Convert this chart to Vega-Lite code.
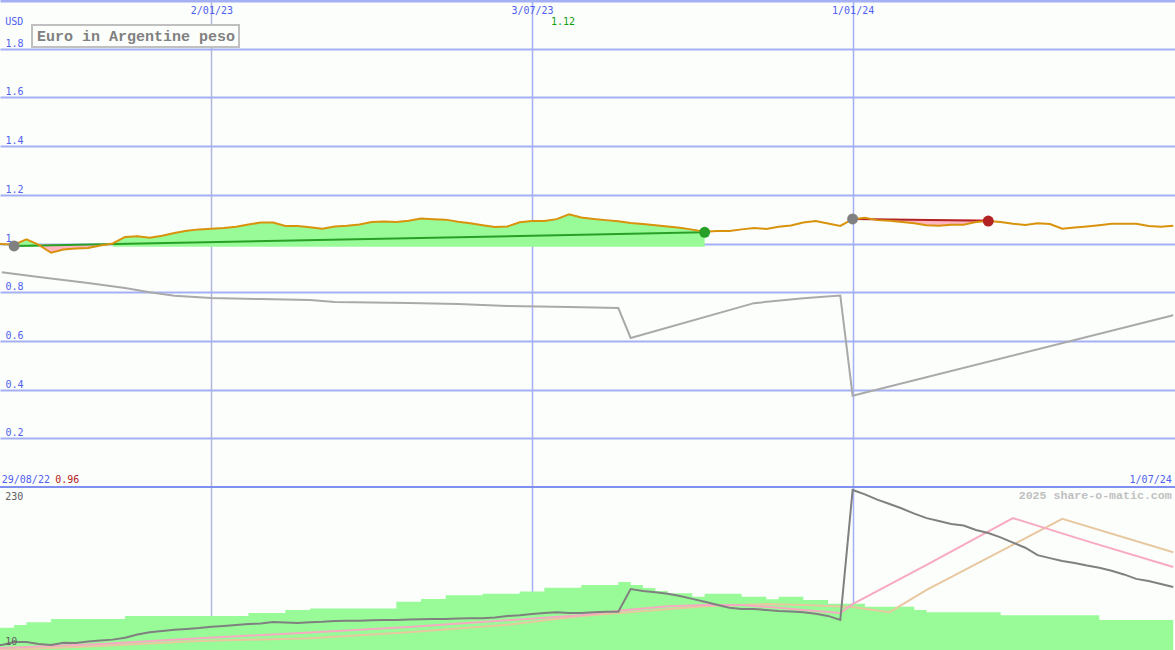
{
  "$schema": "https://vega.github.io/schema/vega-lite/v6.json",
  "width": 1175,
  "height": 650,
  "autosize": "none",
  "padding": 0,
  "background": "#fcfefc",
  "config": {
    "view": {"stroke": null},
    "axis": {"labelFont": "DejaVu Sans Mono", "labelFontSize": 10, "labelColor": "#5060f0"},
    "text": {"font": "DejaVu Sans Mono", "fontSize": 10},
    "legend": {"strokeWidth": 2}
  },
  "datasets": {
    "wk": [
      {"d":"2022-08-29","eur":0.998,"vol":40,"gb":16},
      {"d":"2022-09-05","eur":0.998,"vol":40,"gb":16.7},
      {"d":"2022-09-12","eur":0.995,"vol":43.7,"gb":20.8},
      {"d":"2022-09-19","eur":1.017,"vol":47.4,"gb":20.8},
      {"d":"2022-09-26","eur":0.994,"vol":47.4,"gb":18},
      {"d":"2022-10-03","eur":0.962,"vol":51.8,"gb":16.7},
      {"d":"2022-10-10","eur":0.975,"vol":51.8,"gb":19.9},
      {"d":"2022-10-17","eur":0.979,"vol":51.8,"gb":19.4},
      {"d":"2022-10-24","eur":0.982,"vol":51.8,"gb":21.5},
      {"d":"2022-10-31","eur":0.992,"vol":51.8,"gb":22.8},
      {"d":"2022-11-07","eur":1.000,"vol":51.8,"gb":24},
      {"d":"2022-11-14","eur":1.027,"vol":55.9,"gb":26.5},
      {"d":"2022-11-21","eur":1.030,"vol":55.9,"gb":31},
      {"d":"2022-11-28","eur":1.024,"vol":55.9,"gb":34},
      {"d":"2022-12-05","eur":1.032,"vol":55.9,"gb":35.6},
      {"d":"2022-12-12","eur":1.043,"vol":55.9,"gb":37.4},
      {"d":"2022-12-19","eur":1.052,"vol":55.9,"gb":38.5},
      {"d":"2022-12-26","eur":1.058,"vol":55.9,"gb":39.7},
      {"d":"2023-01-02","eur":1.061,"vol":55.9,"gb":41.4},
      {"d":"2023-01-09","eur":1.064,"vol":55.9,"gb":42.5},
      {"d":"2023-01-16","eur":1.069,"vol":55.9,"gb":43.7},
      {"d":"2023-01-23","eur":1.078,"vol":60,"gb":45},
      {"d":"2023-01-30","eur":1.086,"vol":60,"gb":45.8},
      {"d":"2023-02-06","eur":1.086,"vol":60,"gb":47.8},
      {"d":"2023-02-13","eur":1.072,"vol":64,"gb":47},
      {"d":"2023-02-20","eur":1.072,"vol":64,"gb":46.4},
      {"d":"2023-02-27","eur":1.067,"vol":66,"gb":47.5},
      {"d":"2023-03-06","eur":1.061,"vol":66,"gb":48},
      {"d":"2023-03-13","eur":1.070,"vol":66,"gb":49},
      {"d":"2023-03-20","eur":1.073,"vol":66,"gb":49.5},
      {"d":"2023-03-27","eur":1.078,"vol":66,"gb":49.5},
      {"d":"2023-04-03","eur":1.088,"vol":66,"gb":50},
      {"d":"2023-04-10","eur":1.090,"vol":66,"gb":50.5},
      {"d":"2023-04-17","eur":1.088,"vol":75,"gb":50.5},
      {"d":"2023-04-24","eur":1.093,"vol":75,"gb":51},
      {"d":"2023-05-01","eur":1.103,"vol":79,"gb":51.5},
      {"d":"2023-05-08","eur":1.100,"vol":79,"gb":51.8},
      {"d":"2023-05-15","eur":1.098,"vol":84,"gb":52},
      {"d":"2023-05-22","eur":1.089,"vol":84,"gb":52.5},
      {"d":"2023-05-29","eur":1.083,"vol":84,"gb":53},
      {"d":"2023-06-05","eur":1.075,"vol":86,"gb":53},
      {"d":"2023-06-12","eur":1.068,"vol":86,"gb":54},
      {"d":"2023-06-19","eur":1.070,"vol":86,"gb":55.9},
      {"d":"2023-06-26","eur":1.087,"vol":89,"gb":57},
      {"d":"2023-07-03","eur":1.092,"vol":89,"gb":58.5},
      {"d":"2023-07-10","eur":1.092,"vol":94,"gb":60},
      {"d":"2023-07-17","eur":1.100,"vol":94,"gb":61},
      {"d":"2023-07-24","eur":1.120,"vol":94,"gb":60},
      {"d":"2023-07-31","eur":1.107,"vol":97.7,"gb":60},
      {"d":"2023-08-07","eur":1.101,"vol":97.7,"gb":61},
      {"d":"2023-08-14","eur":1.096,"vol":97.7,"gb":61.7},
      {"d":"2023-08-21","eur":1.091,"vol":101.8,"gb":61.7},
      {"d":"2023-08-28","eur":1.084,"vol":97.7,"gb":92.3},
      {"d":"2023-09-04","eur":1.080,"vol":93.7,"gb":89.6},
      {"d":"2023-09-11","eur":1.075,"vol":89.6,"gb":88},
      {"d":"2023-09-18","eur":1.070,"vol":86.5,"gb":86},
      {"d":"2023-09-25","eur":1.065,"vol":86.5,"gb":83},
      {"d":"2023-10-02","eur":1.057,"vol":81.9,"gb":79},
      {"d":"2023-10-09","eur":1.048,"vol":86,"gb":75},
      {"d":"2023-10-16","eur":1.051,"vol":86,"gb":71},
      {"d":"2023-10-23","eur":1.051,"vol":86,"gb":67},
      {"d":"2023-10-30","eur":1.058,"vol":81.9,"gb":65.3},
      {"d":"2023-11-06","eur":1.064,"vol":81.9,"gb":65.3},
      {"d":"2023-11-13","eur":1.060,"vol":78.4,"gb":64},
      {"d":"2023-11-20","eur":1.069,"vol":81.9,"gb":62.6},
      {"d":"2023-11-27","eur":1.074,"vol":81.9,"gb":62},
      {"d":"2023-12-04","eur":1.086,"vol":77.5,"gb":61},
      {"d":"2023-12-11","eur":1.092,"vol":77.5,"gb":59},
      {"d":"2023-12-18","eur":1.082,"vol":72.5,"gb":56},
      {"d":"2023-12-25","eur":1.072,"vol":72.5,"gb":50.5},
      {"d":"2024-01-01","eur":1.100,"vol":72.5,"gb":226},
      {"d":"2024-01-08","eur":1.106,"vol":68.4,"gb":220},
      {"d":"2024-01-15","eur":1.096,"vol":68.4,"gb":213},
      {"d":"2024-01-22","eur":1.093,"vol":68.4,"gb":207},
      {"d":"2024-01-29","eur":1.088,"vol":68.4,"gb":201},
      {"d":"2024-02-05","eur":1.083,"vol":64,"gb":194},
      {"d":"2024-02-12","eur":1.075,"vol":61,"gb":188},
      {"d":"2024-02-19","eur":1.073,"vol":61,"gb":184},
      {"d":"2024-02-26","eur":1.077,"vol":61,"gb":180},
      {"d":"2024-03-04","eur":1.077,"vol":61,"gb":178},
      {"d":"2024-03-11","eur":1.088,"vol":61,"gb":172},
      {"d":"2024-03-18","eur":1.092,"vol":61,"gb":168},
      {"d":"2024-03-25","eur":1.088,"vol":57,"gb":162},
      {"d":"2024-04-01","eur":1.081,"vol":57,"gb":155},
      {"d":"2024-04-08","eur":1.076,"vol":57,"gb":148},
      {"d":"2024-04-15","eur":1.083,"vol":57,"gb":138},
      {"d":"2024-04-22","eur":1.080,"vol":57,"gb":134},
      {"d":"2024-04-29","eur":1.061,"vol":57,"gb":130},
      {"d":"2024-05-06","eur":1.066,"vol":57,"gb":127.4},
      {"d":"2024-05-13","eur":1.070,"vol":57,"gb":124},
      {"d":"2024-05-20","eur":1.075,"vol":50.5,"gb":121},
      {"d":"2024-05-27","eur":1.081,"vol":50.5,"gb":117},
      {"d":"2024-06-03","eur":1.081,"vol":50.5,"gb":112},
      {"d":"2024-06-10","eur":1.081,"vol":50.5,"gb":106},
      {"d":"2024-06-17","eur":1.072,"vol":50.5,"gb":103},
      {"d":"2024-06-24","eur":1.069,"vol":50.5,"gb":99},
      {"d":"2024-07-01","eur":1.073,"vol":50.5,"gb":95}
    ],
    "gtop": [
      {"d":"2022-09-05","v":0.882},
      {"d":"2022-09-26","v":0.862},
      {"d":"2022-10-10","v":0.85},
      {"d":"2022-10-24","v":0.838},
      {"d":"2022-11-14","v":0.817},
      {"d":"2022-11-28","v":0.80},
      {"d":"2022-12-12","v":0.785},
      {"d":"2023-01-02","v":0.776},
      {"d":"2023-01-30","v":0.772},
      {"d":"2023-02-27","v":0.768},
      {"d":"2023-03-13","v":0.76},
      {"d":"2023-04-24","v":0.756},
      {"d":"2023-05-22","v":0.752},
      {"d":"2023-06-19","v":0.743},
      {"d":"2023-07-24","v":0.739},
      {"d":"2023-08-21","v":0.735},
      {"d":"2023-08-28","v":0.612},
      {"d":"2023-11-06","v":0.755},
      {"d":"2023-12-04","v":0.775},
      {"d":"2023-12-25","v":0.786},
      {"d":"2024-01-01","v":0.375},
      {"d":"2024-07-01","v":0.705}
    ],
    "pinkl": [
      {"d":"2022-08-29","v":12},
      {"d":"2022-09-05","v":12.7},
      {"d":"2022-10-31","v":18},
      {"d":"2022-12-26","v":26},
      {"d":"2023-02-27","v":33.5},
      {"d":"2023-04-24","v":41},
      {"d":"2023-06-19","v":50},
      {"d":"2023-07-31","v":57},
      {"d":"2023-08-21","v":63},
      {"d":"2023-09-18","v":69},
      {"d":"2023-10-09","v":70.7},
      {"d":"2023-10-30","v":70.7},
      {"d":"2023-11-20","v":67},
      {"d":"2023-12-04","v":64},
      {"d":"2023-12-25","v":60},
      {"d":"2024-01-01","v":72},
      {"d":"2024-02-12","v":125},
      {"d":"2024-04-01","v":188},
      {"d":"2024-05-13","v":157},
      {"d":"2024-07-01","v":122}
    ],
    "tanl": [
      {"d":"2022-08-29","v":9.5},
      {"d":"2022-09-05","v":10},
      {"d":"2022-10-31","v":15.4},
      {"d":"2022-12-26","v":22},
      {"d":"2023-02-27","v":26},
      {"d":"2023-04-24","v":34},
      {"d":"2023-06-19","v":44},
      {"d":"2023-07-31","v":56},
      {"d":"2023-10-09","v":69},
      {"d":"2023-11-13","v":72},
      {"d":"2023-12-04","v":70.7},
      {"d":"2024-01-01","v":68},
      {"d":"2024-01-22","v":61},
      {"d":"2024-02-12","v":91},
      {"d":"2024-04-29","v":187},
      {"d":"2024-07-01","v":142}
    ]
  },
  "resolve": {"scale": {"y": "independent"}},
  "layer": [
    {
      "layer": [
        {
          "data": {"name": "wk"},
          "transform": [{"filter": "toDate(datum.d) >= utc(2022,8,12) && toDate(datum.d) <= utc(2022,8,26)"}],
          "mark": {"type": "area", "color": "#98fb98", "clip": true},
          "encoding": {
            "x": {"field": "d", "type": "temporal",
              "scale": {"type": "utc", "domain": [{"year":2022,"month":9,"date":4,"utc":true},{"year":2024,"month":7,"date":2,"utc":true}]},
              "axis": {"orient": "top", "title": null,
                "values": [{"year":2023,"month":1,"date":2,"utc":true},{"year":2023,"month":7,"date":3,"utc":true},{"year":2024,"month":1,"date":1,"utc":true}],
                "labelExpr": "utcFormat(datum.value, '%-d/%m/%y')",
                "grid": true,
                "gridColor": {"condition": {"test": "datum.value < utc(2023,2,1)", "value": "#b4b8dc"}, "value": "#a4b0f4"},
                "gridWidth": 1.5,
                "ticks": false, "tickSize": 0,
                "domain": true, "domainColor": "#a4b0f4", "domainWidth": 4,
                "labelPadding": -13, "labelBaseline": "alphabetic",
                "labelFlush": false, "labelOverlap": false, "labelBound": false}},
            "y": {"field": "eur", "type": "quantitative",
              "scale": {"domain": [-0.6694, 2.0], "nice": false, "zero": false},
              "axis": {"title": null, "values": [0.2,0.4,0.6,0.8,1,1.2,1.4,1.6,1.8], "format": "~g",
                "grid": true, "gridColor": "#a4b0f4", "gridWidth": 2,
                "ticks": false, "tickSize": 0, "domain": false,
                "labelAlign": "left", "labelPadding": -5, "labelBaseline": "alphabetic", "labelOffset": -2.5,
                "labelFlush": false, "labelOverlap": false, "labelBound": false}},
            "y2": {"datum": 0.987}
          }
        },
        {
          "data": {"name": "wk"},
          "transform": [{"filter": "toDate(datum.d) >= utc(2022,10,7) && toDate(datum.d) <= utc(2023,9,9)"}],
          "mark": {"type": "area", "color": "#98fb98", "clip": true},
          "encoding": {
            "x": {"field": "d", "type": "temporal", "scale": {"type": "utc"}},
            "y": {"field": "eur", "type": "quantitative"},
            "y2": {"datum": 0.987}
          }
        },
        {
          "data": {"name": "wk"},
          "transform": [{"filter": "toDate(datum.d) >= utc(2022,8,26) && toDate(datum.d) <= utc(2022,10,7)"}],
          "mark": {"type": "area", "color": "#ffb6c1", "clip": true},
          "encoding": {
            "x": {"field": "d", "type": "temporal", "scale": {"type": "utc"}},
            "y": {"field": "eur", "type": "quantitative"},
            "y2": {"datum": 0.997}
          }
        },
        {
          "data": {"name": "wk"},
          "transform": [{"filter": "toDate(datum.d) >= utc(2024,0,15) && toDate(datum.d) <= utc(2024,2,18)"}],
          "mark": {"type": "area", "color": "#ffb6c1", "clip": true},
          "encoding": {
            "x": {"field": "d", "type": "temporal", "scale": {"type": "utc"}},
            "y": {"field": "eur", "type": "quantitative"},
            "y2": {"datum": 1.1}
          }
        },
        {
          "data": {"values": [{"d":"2022-09-12","v":0.99},{"d":"2023-10-09","v":1.046}]},
          "mark": {"type": "line", "color": "#28a028", "strokeWidth": 2},
          "encoding": {
            "x": {"field": "d", "type": "temporal", "scale": {"type": "utc"}},
            "y": {"field": "v", "type": "quantitative"}
          }
        },
        {
          "data": {"values": [{"d":"2024-01-01","v":1.101},{"d":"2024-03-18","v":1.093}]},
          "mark": {"type": "line", "color": "#b22222", "strokeWidth": 2},
          "encoding": {
            "x": {"field": "d", "type": "temporal", "scale": {"type": "utc"}},
            "y": {"field": "v", "type": "quantitative"}
          }
        },
        {
          "data": {"name": "gtop"},
          "mark": {"type": "line", "color": "#a9a9a9", "strokeWidth": 2, "clip": true},
          "encoding": {
            "x": {"field": "d", "type": "temporal", "scale": {"type": "utc"}},
            "y": {"field": "v", "type": "quantitative"}
          }
        },
        {
          "data": {"values": [{"v": 0}]},
          "mark": {"type": "rule", "color": "#8090f0", "strokeWidth": 2},
          "encoding": {"y": {"field": "v", "type": "quantitative"}}
        },
        {
          "data": {"name": "wk"},
          "mark": {"type": "line", "strokeWidth": 2, "clip": true},
          "encoding": {
            "x": {"field": "d", "type": "temporal", "scale": {"type": "utc"}},
            "y": {"field": "eur", "type": "quantitative"},
            "color": {"datum": "Euro in Argentine peso",
              "scale": {"range": ["#d8920c"]},
              "legend": {"orient": "none", "legendX": 32, "legendY": 25, "title": null,
                "strokeColor": "#c0c0c0", "padding": 3, "fillColor": "#fcfefc",
                "symbolSize": 0, "symbolStrokeWidth": 0, "symbolOpacity": 0, "labelOffset": -13,
                "labelFont": "Liberation Mono", "labelFontSize": 15, "labelFontWeight": "bold", "labelColor": "#808080", "labelLimit": 400}}
          }
        },
        {
          "data": {"values": [{"d":"2022-09-12","v":0.99},{"d":"2024-01-01","v":1.101}]},
          "mark": {"type": "point", "filled": true, "size": 120, "color": "#808080", "opacity": 1},
          "encoding": {
            "x": {"field": "d", "type": "temporal", "scale": {"type": "utc"}},
            "y": {"field": "v", "type": "quantitative"}
          }
        },
        {
          "data": {"values": [{"d":"2023-10-09","v":1.046}]},
          "mark": {"type": "point", "filled": true, "size": 120, "color": "#28a028", "opacity": 1},
          "encoding": {
            "x": {"field": "d", "type": "temporal", "scale": {"type": "utc"}},
            "y": {"field": "v", "type": "quantitative"}
          }
        },
        {
          "data": {"values": [{"d":"2024-03-18","v":1.092}]},
          "mark": {"type": "point", "filled": true, "size": 120, "color": "#b22222", "opacity": 1},
          "encoding": {
            "x": {"field": "d", "type": "temporal", "scale": {"type": "utc"}},
            "y": {"field": "v", "type": "quantitative"}
          }
        },
        {
          "data": {"values": [{"t":"USD","d":"2022-09-05"}]},
          "mark": {"type": "text", "align": "left", "baseline": "alphabetic", "dx": 3.5, "color": "#5060f0"},
          "encoding": {
            "x": {"field": "d", "type": "temporal", "scale": {"type": "utc"}},
            "y": {"datum": 1.897},
            "text": {"field": "t"}
          }
        },
        {
          "data": {"values": [{"t":"1.12","d":"2023-07-24"}]},
          "mark": {"type": "text", "align": "center", "baseline": "alphabetic", "dx": -6, "color": "#10a010"},
          "encoding": {
            "x": {"field": "d", "type": "temporal", "scale": {"type": "utc"}},
            "y": {"datum": 1.897},
            "text": {"field": "t"}
          }
        },
        {
          "data": {"values": [{"t":"29/08/22","d":"2022-09-05"}]},
          "mark": {"type": "text", "align": "left", "baseline": "alphabetic", "dx": 0, "color": "#5060f0"},
          "encoding": {
            "x": {"field": "d", "type": "temporal", "scale": {"type": "utc"}},
            "y": {"datum": 0.015},
            "text": {"field": "t"}
          }
        },
        {
          "data": {"values": [{"t":"0.96","d":"2022-09-05"}]},
          "mark": {"type": "text", "align": "left", "baseline": "alphabetic", "dx": 53.5, "color": "#b22222"},
          "encoding": {
            "x": {"field": "d", "type": "temporal", "scale": {"type": "utc"}},
            "y": {"datum": 0.015},
            "text": {"field": "t"}
          }
        },
        {
          "data": {"values": [{"t":"1/07/24","d":"2024-07-01"}]},
          "mark": {"type": "text", "align": "right", "baseline": "alphabetic", "dx": -1.5, "color": "#5060f0"},
          "encoding": {
            "x": {"field": "d", "type": "temporal", "scale": {"type": "utc"}},
            "y": {"datum": 0.015},
            "text": {"field": "t"}
          }
        }
      ]
    },
    {
      "layer": [
        {
          "data": {"name": "wk"},
          "mark": {"type": "area", "color": "#98fb98", "interpolate": "step-after", "clip": true},
          "encoding": {
            "x": {"field": "d", "type": "temporal", "scale": {"type": "utc"}},
            "y": {"field": "vol", "type": "quantitative", "axis": null,
              "scale": {"domain": [10, 887.3], "nice": false, "zero": false}},
            "y2": {"datum": 10}
          }
        },
        {
          "data": {"name": "tanl"},
          "mark": {"type": "line", "color": "#e8c8a0", "strokeWidth": 2, "clip": true},
          "encoding": {
            "x": {"field": "d", "type": "temporal", "scale": {"type": "utc"}},
            "y": {"field": "v", "type": "quantitative", "axis": null}
          }
        },
        {
          "data": {"name": "pinkl"},
          "mark": {"type": "line", "color": "#f7aac2", "strokeWidth": 2, "clip": true},
          "encoding": {
            "x": {"field": "d", "type": "temporal", "scale": {"type": "utc"}},
            "y": {"field": "v", "type": "quantitative", "axis": null}
          }
        },
        {
          "data": {"name": "wk"},
          "mark": {"type": "line", "color": "#808080", "strokeWidth": 2, "clip": true},
          "encoding": {
            "x": {"field": "d", "type": "temporal", "scale": {"type": "utc"}},
            "y": {"field": "gb", "type": "quantitative", "axis": null}
          }
        },
        {
          "data": {"values": [{"t":"230","d":"2022-09-05"}]},
          "mark": {"type": "text", "align": "left", "baseline": "alphabetic", "dx": 3.5, "color": "#606060"},
          "encoding": {
            "x": {"field": "d", "type": "temporal", "scale": {"type": "utc"}},
            "y": {"datum": 212.5},
            "text": {"field": "t"}
          }
        },
        {
          "data": {"values": [{"t":"10","d":"2022-09-05"}]},
          "mark": {"type": "text", "align": "left", "baseline": "alphabetic", "dx": 3.5, "color": "#606060"},
          "encoding": {
            "x": {"field": "d", "type": "temporal", "scale": {"type": "utc"}},
            "y": {"datum": 16.75},
            "text": {"field": "t"}
          }
        },
        {
          "data": {"values": [{"t":"2025 share-o-matic.com","d":"2024-07-01"}]},
          "mark": {"type": "text", "align": "right", "baseline": "alphabetic", "dx": -1.5, "color": "#c0c0c0",
            "font": "Liberation Mono", "fontSize": 11.6, "fontWeight": "bold"},
          "encoding": {
            "x": {"field": "d", "type": "temporal", "scale": {"type": "utc"}},
            "y": {"datum": 213.4},
            "text": {"field": "t"}
          }
        }
      ]
    }
  ]
}
